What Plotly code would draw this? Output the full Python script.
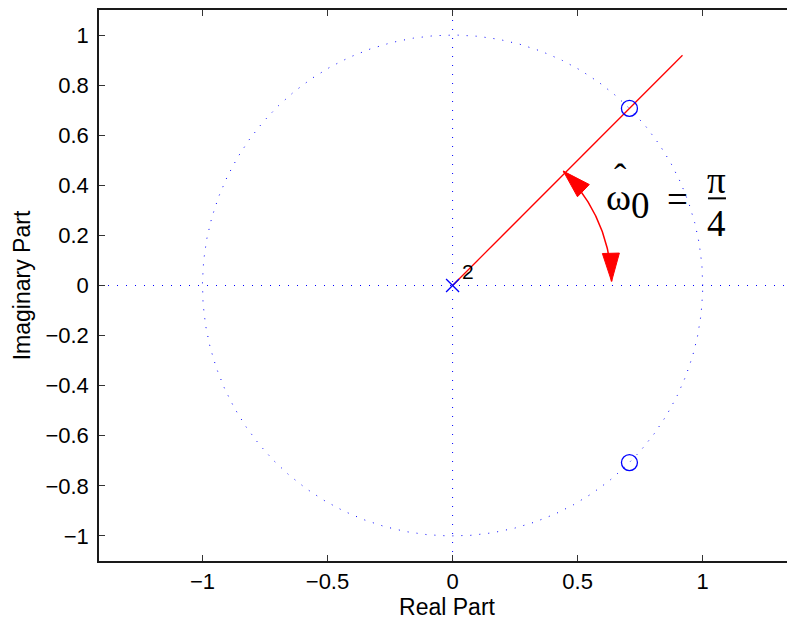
import numpy as np
import plotly.graph_objects as go

# ---- data ----
zeros_re = [0.7071, 0.7071]
zeros_im = [0.7071, -0.7071]
poles_re = [0.0]
poles_im = [0.0]
pole_multiplicity = ["2"]
omega0 = np.pi / 4
ray_length = 1.3
arc_radius = 0.636
arc_theta_start_deg = 1.5
arc_theta_end_deg = 45.9

x_tickvals = [-1, -0.5, 0, 0.5, 1]
x_ticktext = ["\u22121", "\u22120.5", "0", "0.5", "1"]
y_tickvals = [1, 0.8, 0.6, 0.4, 0.2, 0, -0.2, -0.4, -0.6, -0.8, -1]
y_ticktext = ["1", "0.8", "0.6", "0.4", "0.2", "0", "\u22120.2", "\u22120.4", "\u22120.6", "\u22120.8", "\u22121"]

BLUE = "rgb(0,0,255)"
RED = "rgb(255,0,0)"
SANS = "Liberation Sans, Arial, Helvetica, sans-serif"
SERIF = "Liberation Serif, Times New Roman, serif"

fig = go.Figure()

# unit circle
t = np.linspace(0, 2 * np.pi, 721)
fig.add_trace(go.Scatter(x=np.cos(t), y=np.sin(t), mode="lines",
                         line=dict(color=BLUE, width=1, dash="1px,8px"),
                         hoverinfo="skip"))

# red ray at angle omega0
fig.add_trace(go.Scatter(x=[0, ray_length * np.cos(omega0)],
                         y=[0, ray_length * np.sin(omega0)],
                         mode="lines", line=dict(color=RED, width=1.3),
                         hoverinfo="skip"))

# arc
th = np.radians(np.linspace(arc_theta_start_deg, arc_theta_end_deg, 100))
fig.add_trace(go.Scatter(x=arc_radius * np.cos(th), y=arc_radius * np.sin(th),
                         mode="lines", line=dict(color=RED, width=1.5),
                         hoverinfo="skip"))

# arrowheads (filled triangles)
def arrowhead(theta_deg, ccw, L=0.112, w=0.034):
    a = np.radians(theta_deg)
    tip = np.array([arc_radius * np.cos(a), arc_radius * np.sin(a)])
    if ccw:
        d = np.array([-np.sin(a), np.cos(a)])
    else:
        d = np.array([np.sin(a), -np.cos(a)])
    n = np.array([np.cos(a), np.sin(a)])
    base = tip - L * d
    p1 = base + w * n
    p2 = base - w * n
    return [tip[0], p1[0], p2[0], tip[0]], [tip[1], p1[1], p2[1], tip[1]]

for th_deg, ccw in [(arc_theta_end_deg, True), (arc_theta_start_deg, False)]:
    ax_, ay_ = arrowhead(th_deg, ccw)
    fig.add_trace(go.Scatter(x=ax_, y=ay_, mode="lines", fill="toself",
                             fillcolor=RED, line=dict(color=RED, width=1),
                             hoverinfo="skip"))

# zeros
fig.add_trace(go.Scatter(x=zeros_re, y=zeros_im, mode="markers",
                         marker=dict(symbol="circle-open", size=16, color=BLUE,
                                     line=dict(width=1.3, color=BLUE)),
                         hoverinfo="skip"))
# poles
fig.add_trace(go.Scatter(x=poles_re, y=poles_im, mode="markers",
                         marker=dict(symbol="x-thin-open", size=13, color=BLUE,
                                     line=dict(width=1.3, color=BLUE)),
                         hoverinfo="skip"))
fig.add_annotation(x=poles_re[0] + 0.062, y=poles_im[0] + 0.054, text=pole_multiplicity[0],
                   showarrow=False, font=dict(family=SANS, size=21, color="black"),
                   xanchor="center", yanchor="middle")

# dotted axes through origin
dot = dict(color=BLUE, width=1, dash="1px,8px")
fig.add_shape(type="line", xref="paper", x0=0, x1=1, yref="y", y0=0, y1=0, line=dot, layer="below")
fig.add_shape(type="line", xref="x", x0=0, x1=0, yref="paper", y0=0, y1=1, line=dot, layer="below")

# omega-hat_0 = pi/4 label
labels = [
    ("\u03c9", 0.665, 0.355, 38),
    ("\u02c6", 0.670, 0.432, 37),
    ("0", 0.750, 0.318, 37),
    ("=", 0.899, 0.344, 37),
    ("\u03c0", 1.057, 0.418, 37),
    ("4", 1.057, 0.246, 37),
]
for txt, x, y, s in labels:
    fig.add_annotation(x=x, y=y, text=txt, showarrow=False,
                       font=dict(family=SERIF, size=s, color="black"),
                       xanchor="center", yanchor="middle")
fig.add_shape(type="line", x0=1.021, x1=1.093, y0=0.348, y1=0.348,
              line=dict(color="black", width=2))

axis_common = dict(showgrid=False, zeroline=False, showline=True,
                   linecolor="#1a1a1a", linewidth=1.5, automargin=False,
                   ticks="inside", ticklen=6, tickwidth=1, tickcolor="#333",
                   tickfont=dict(family=SANS, size=22, color="black"))

fig.update_xaxes(range=[-1.4136, 1.369], tickvals=x_tickvals, ticktext=x_ticktext,
                 mirror="ticks",
                 title=dict(text="Real Part", font=dict(family=SANS, size=23, color="black"),
                            standoff=2),
                 **axis_common)
fig.update_yaxes(range=[-1.1, 1.1], tickvals=y_tickvals, ticktext=y_ticktext,
                 mirror=False, ticklabelstandoff=4,
                 title=dict(text="Imaginary Part", font=dict(family=SANS, size=23, color="black"),
                            standoff=8),
                 **axis_common)

# page body has an 8px default margin, so the figure is offset by 8px
fig.update_layout(width=787, height=614,
                  margin=dict(l=91, r=0, t=2, b=61, pad=0),
                  plot_bgcolor="white", paper_bgcolor="white",
                  showlegend=False, hovermode=False)

fig.write_html("out.html")
